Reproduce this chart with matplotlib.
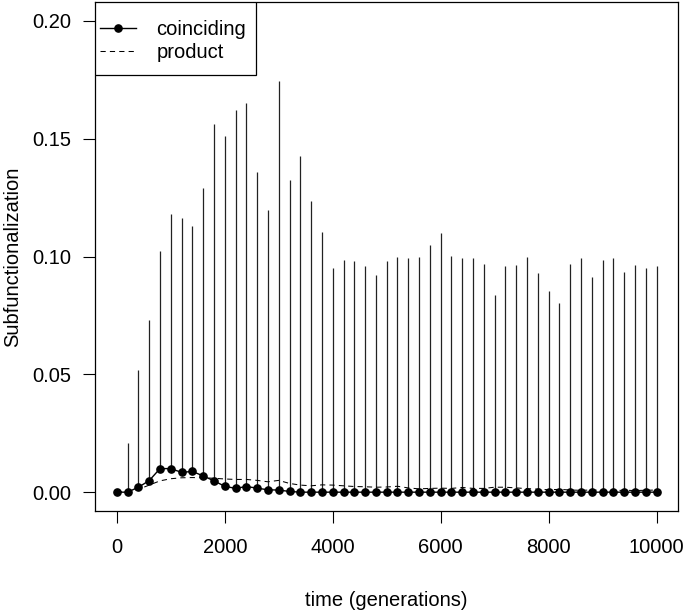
import numpy as np
import matplotlib
matplotlib.use("Agg")
import matplotlib.pyplot as plt
from matplotlib.patches import Rectangle
from matplotlib.ticker import FormatStrFormatter

plt.rcParams['font.family'] = ['Liberation Sans', 'DejaVu Sans']

# generations, sampled every 200
time = np.arange(0, 10001, 200)

coinciding = [0, 0, 0.0021, 0.0049, 0.0100, 0.0100, 0.0084, 0.0088, 0.0069, 0.0048,
              0.0025, 0.0016, 0.0024, 0.0017, 0.0010, 0.0009, 0.0003, 0, 0, 0,
              0, 0, 0, 0, 0, 0, 0, 0, 0, 0,
              0, 0, 0, 0, 0, 0, 0, 0, 0, 0,
              0, 0, 0, 0, 0, 0, 0, 0, 0, 0, 0]

product = [0, 0.0003, 0.0012, 0.0030, 0.0048, 0.0057, 0.0061, 0.0062, 0.0061, 0.0059,
           0.0056, 0.0054, 0.0054, 0.0050, 0.0044, 0.0050, 0.0037, 0.0030, 0.0027, 0.0031,
           0.0030, 0.0027, 0.0024, 0.0023, 0.0021, 0.0022, 0.0025, 0.0018, 0.0014, 0.0016,
           0.0017, 0.0016, 0.0020, 0.0016, 0.0016, 0.0021, 0.0021, 0.0018, 0.0015, 0.0013,
           0.0010, 0.0012, 0.0009, 0.0008, 0.0009, 0.0008, 0.0007, 0.0008, 0.0007, 0.0008, 0.0009]

# upper end of the spread for each sample
upper = [0, 0.0208, 0.0517, 0.0729, 0.1025, 0.1182, 0.1162, 0.1128, 0.1291, 0.1561,
         0.1510, 0.1623, 0.1653, 0.1359, 0.1196, 0.1746, 0.1323, 0.1427, 0.1237, 0.1102,
         0.0951, 0.0985, 0.0982, 0.0960, 0.0920, 0.0979, 0.0996, 0.0993, 0.0997, 0.1047,
         0.1100, 0.1004, 0.0994, 0.0992, 0.0968, 0.0836, 0.0959, 0.0965, 0.1000, 0.0929,
         0.0853, 0.0802, 0.0970, 0.0993, 0.0915, 0.0986, 0.0994, 0.0933, 0.0962, 0.0953, 0.0959]

xticks = [0, 2000, 4000, 6000, 8000, 10000]
yticks = [0.00, 0.05, 0.10, 0.15, 0.20]

fig = plt.figure(figsize=(6.85, 6.12), dpi=100)
ax = fig.add_axes([0.139, 0.165, 0.851, 0.8317])

ax.vlines(time, coinciding, upper, color='#222222', linewidth=0.9)
ax.plot(time, product, color='black', linewidth=0.75, linestyle=(0, (5, 4)), label='product')
ax.plot(time, coinciding, color='black', linewidth=1.0, marker='o', markersize=5.2,
        label='coinciding')

ax.set_xlim(-400, 10400)
ax.set_ylim(-0.008, 0.208)
ax.set_xticks(xticks)
ax.set_yticks(yticks)
ax.yaxis.set_major_formatter(FormatStrFormatter('%.2f'))
ax.tick_params(axis='both', length=8.6, width=0.8, labelsize=14.5, color='black')
ax.tick_params(axis='x', pad=11)
ax.tick_params(axis='y', pad=9)
for s in ax.spines.values():
    s.set_linewidth(0.9)

ax.set_xlabel('time (generations)', fontsize=14.5, labelpad=24)
ax.set_ylabel('Subfunctionalization', fontsize=14.5, labelpad=7)

# legend box drawn separately so its padding can match the original
ax.add_patch(Rectangle((0, 1 - 0.1434), 0.276, 0.1434, transform=ax.transAxes,
                       facecolor='white', edgecolor='black', linewidth=0.9, zorder=4))
handles, labels = ax.get_legend_handles_labels()
leg = ax.legend(handles[::-1], labels[::-1], loc='upper left', fontsize=14.5,
                bbox_to_anchor=(0.008, 0.965), frameon=False, borderaxespad=0,
                borderpad=0, handlelength=1.8, handletextpad=1.0, labelspacing=0.2)
leg.set_zorder(5)

fig.savefig('out.png', dpi=100)
